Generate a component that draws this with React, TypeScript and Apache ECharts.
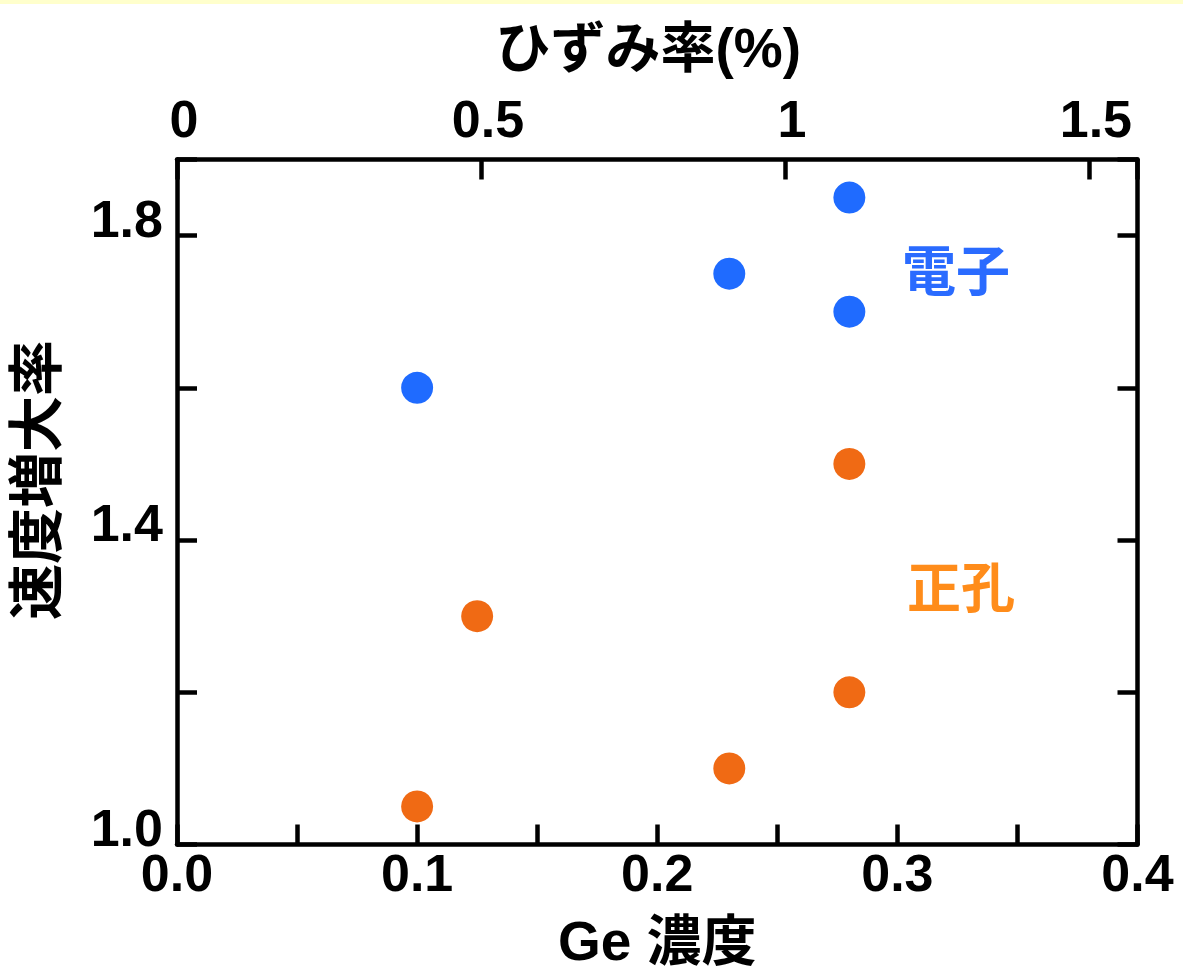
import React, { useEffect, useRef } from "react";
import * as echarts from "echarts";

const electronX = [0.1, 0.23, 0.28, 0.28];
const electronY = [1.6, 1.75, 1.85, 1.7];
const holeX = [0.1, 0.125, 0.23, 0.28, 0.28];
const holeY = [1.05, 1.3, 1.1, 1.2, 1.5];
const bottomLabels = [0, 0.1, 0.2, 0.3, 0.4];
const leftLabels = [1.0, 1.4, 1.8];
const topLabels = [0, 0.5, 1, 1.5];

const LATIN = "'Liberation Sans', Arial, 'Noto Sans CJK JP', sans-serif";
const CJK = "'Liberation Sans', 'Noto Sans CJK JP', sans-serif";
const LW = 4.5;

const near = (v: number, list: number[]) => list.some((t) => Math.abs(t - v) < 1e-6);

export default function App() {
  const ref = useRef<HTMLDivElement>(null);
  useEffect(() => {
    if (!ref.current) return;
    const chart = echarts.init(ref.current, null, { renderer: "svg" });
    const axisLine = { show: true, onZero: false, lineStyle: { color: "#000", width: LW } };
    const axisTick = { show: true, inside: true, length: 20, lineStyle: { color: "#000", width: LW } };
    chart.setOption({
      animation: false,
      backgroundColor: "#fff",
      grid: { left: 176.5, right: 45.5, top: 159.5, bottom: 131.5, containLabel: false },
      xAxis: [
        {
          type: "value",
          position: "bottom",
          min: 0,
          max: 0.4,
          interval: 0.05,
          name: "Ge 濃度",
          nameLocation: "middle",
          nameGap: 69,
          nameTextStyle: { fontFamily: CJK, fontSize: 55, fontWeight: "bold", color: "#000" },
          axisLine,
          axisTick,
          splitLine: { show: false },
          axisLabel: {
            margin: 2,
            fontFamily: LATIN,
            fontSize: 52,
            fontWeight: "bold",
            color: "#000",
            formatter: (v: number) => (near(v, bottomLabels) ? v.toFixed(1) : ""),
          },
        },
        {
          type: "value",
          position: "top",
          min: 0,
          max: 1.58,
          interval: 0.5,
          name: "ひずみ率(%)",
          nameLocation: "middle",
          nameGap: 84,
          nameTextStyle: { fontFamily: CJK, fontSize: 55, fontWeight: "bold", color: "#000", padding: [0, 18, 0, 0] },
          axisLine,
          axisTick,
          splitLine: { show: false },
          axisLabel: {
            margin: 15,
            fontFamily: LATIN,
            fontSize: 52,
            fontWeight: "bold",
            color: "#000",
            padding: [0, 0, 0, 14],
            formatter: (v: number) => (near(v, topLabels) ? String(v) : ""),
          },
        },
      ],
      yAxis: [
        {
          type: "value",
          position: "left",
          min: 1.0,
          max: 1.9,
          interval: 0.2,
          name: "速度増大率",
          nameLocation: "middle",
          nameGap: 113,
          nameTextStyle: { fontFamily: CJK, fontSize: 56, fontWeight: "bold", color: "#000", padding: [0, 0, 0, 44] },
          axisLine,
          axisTick,
          splitLine: { show: false },
          axisLabel: {
            margin: 14,
            fontFamily: LATIN,
            fontSize: 52,
            fontWeight: "bold",
            color: "#000",
            verticalAlign: "bottom",
            lineHeight: 34,
            formatter: (v: number) => (near(v, leftLabels) ? v.toFixed(1) : ""),
          },
        },
        {
          type: "value",
          position: "right",
          min: 1.0,
          max: 1.9,
          interval: 0.2,
          axisLine,
          axisTick,
          splitLine: { show: false },
          axisLabel: { show: false },
        },
      ],
      series: [
        {
          name: "電子",
          type: "scatter",
          xAxisIndex: 0,
          yAxisIndex: 0,
          symbol: "circle",
          symbolSize: 32,
          itemStyle: { color: "#1F6BFF", opacity: 1 },
          data: electronX.map((x, i) => [x, electronY[i]]),
        },
        {
          name: "正孔",
          type: "scatter",
          xAxisIndex: 0,
          yAxisIndex: 0,
          symbol: "circle",
          symbolSize: 32,
          itemStyle: { color: "#F06A14", opacity: 1 },
          data: holeX.map((x, i) => [x, holeY[i]]),
        },
      ],
      graphic: [
        { type: "rect", left: 0, top: 0, shape: { width: 1183, height: 4 }, style: { fill: "#FFFFCC" }, silent: true },
        {
          type: "text",
          x: 902,
          y: 272,
          style: { text: "電子", fill: "#2A6BFF", fontFamily: CJK, fontSize: 54, fontWeight: "bold", textAlign: "left", textVerticalAlign: "middle" },
        },
        {
          type: "text",
          x: 907,
          y: 589,
          style: { text: "正孔", fill: "#FF8C1A", fontFamily: CJK, fontSize: 54, fontWeight: "bold", textAlign: "left", textVerticalAlign: "middle" },
        },
      ],
    });
    return () => chart.dispose();
  }, []);
  return <div ref={ref} style={{ position: "fixed", left: 0, top: 0, width: 1183, height: 976 }} />;
}
